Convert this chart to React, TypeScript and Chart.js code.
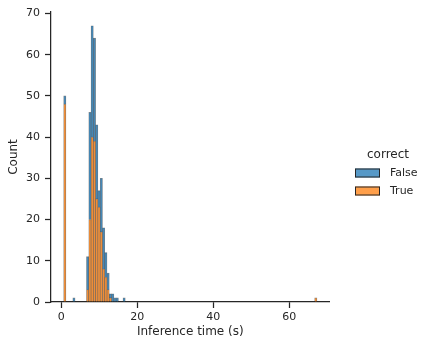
import React, { useEffect, useRef } from "react";
import { Chart, registerables } from "chart.js";

Chart.register(...registerables);

// Histogram bins: left edge of bin 0 and bin width (seconds)
const BIN_START = 0.65;
const BIN_WIDTH = 0.6;

// hue = True (drawn at the bottom of the stack)
const trueBins = [0, 10, 11, 12, 13, 14, 15, 16, 17, 18, 19, 20, 110];
const trueCounts = [48, 3, 20, 40, 39, 25, 23, 17, 8, 6, 3, 1, 1];

// hue = False (stacked on top)
const falseBins = [0, 4, 10, 11, 12, 13, 14, 15, 16, 17, 18, 19, 20, 21, 22, 23, 26];
const falseCounts = [2, 1, 8, 26, 27, 25, 18, 4, 13, 10, 6, 4, 1, 2, 1, 1, 1];

const xTicks = [0, 20, 40, 60];
const yTicks = [0, 10, 20, 30, 40, 50, 60, 70];

const legendTitle = "correct";
const legendLabels = ["False", "True"];

const BLUE = "rgba(31,119,180,0.75)";
const ORANGE = "rgba(255,127,14,0.75)";
const EDGE = "rgba(38,38,38,0.55)";
const DARK = "#262626";
const FONT = "'DejaVu Sans', sans-serif";

const toPoints = (bins: number[], counts: number[]) =>
  bins.map((b, i) => ({ x: BIN_START + BIN_WIDTH * (b + 0.5), y: counts[i] }));

const legendPlugin = {
  id: "sideLegend",
  afterDraw(chart: any) {
    const ctx = chart.ctx;
    ctx.save();
    ctx.fillStyle = DARK;
    ctx.font = `12px ${FONT}`;
    ctx.textAlign = "center";
    ctx.textBaseline = "middle";
    ctx.fillText(legendTitle, 388, 155);
    const colors = [BLUE, ORANGE];
    const rows = [173, 191];
    legendLabels.forEach((lab, i) => {
      const y = rows[i];
      ctx.fillStyle = "#fff";
      ctx.fillRect(355, y - 4.5, 25, 9);
      ctx.fillStyle = colors[i];
      ctx.fillRect(355, y - 4.5, 25, 9);
      ctx.strokeStyle = DARK;
      ctx.lineWidth = 1;
      ctx.strokeRect(355.5, y - 4, 24, 8);
      ctx.fillStyle = DARK;
      ctx.font = `11px ${FONT}`;
      ctx.textAlign = "left";
      ctx.fillText(lab, 390, y);
    });
    ctx.restore();
  },
};

export default function App() {
  const ref = useRef<HTMLCanvasElement>(null);
  useEffect(() => {
    document.body.style.margin = "0";
    const chart = new Chart(ref.current!, {
      type: "bar",
      data: {
        datasets: [
          {
            label: "True",
            data: toPoints(trueBins, trueCounts),
            backgroundColor: ORANGE,
            borderColor: EDGE,
            borderWidth: 0.6,
            barPercentage: 1,
            categoryPercentage: 1,
          },
          {
            label: "False",
            data: toPoints(falseBins, falseCounts),
            backgroundColor: BLUE,
            borderColor: EDGE,
            borderWidth: 0.6,
            barPercentage: 1,
            categoryPercentage: 1,
          },
        ],
      },
      options: {
        responsive: false,
        animation: false,
        devicePixelRatio: 1,
        layout: { padding: { top: 12, right: 103.4, left: 0, bottom: 0 } },
        plugins: { legend: { display: false }, tooltip: { enabled: false } },
        scales: {
          x: {
            type: "linear",
            stacked: true,
            offset: false,
            min: -2.68,
            max: 70.58,
            afterBuildTicks: (s: any) => {
              s.ticks = xTicks.map((v) => ({ value: v }));
            },
            afterFit: (s: any) => {
              s.height = 48;
            },
            grid: { display: true, offset: false, drawOnChartArea: false, drawTicks: true, tickLength: 6, tickWidth: 1.25, tickColor: DARK },
            border: { display: true, color: DARK, width: 1.25 },
            ticks: { color: DARK, font: { family: FONT, size: 11 }, padding: 3, maxRotation: 0 },
            title: { display: true, text: "Inference time (s)", color: DARK, font: { family: FONT, size: 12 }, padding: { top: 0, bottom: 11 } },
          },
          y: {
            stacked: true,
            min: 0,
            max: 70.35,
            afterBuildTicks: (s: any) => {
              s.ticks = yTicks.map((v) => ({ value: v }));
            },
            afterFit: (s: any) => {
              s.width = 51;
            },
            grid: { display: true, drawOnChartArea: false, drawTicks: true, tickLength: 6, tickWidth: 1.25, tickColor: DARK },
            border: { display: true, color: DARK, width: 1.25 },
            ticks: { color: DARK, font: { family: FONT, size: 11 }, padding: 5 },
            title: { display: true, text: "Count", color: DARK, font: { family: FONT, size: 12 }, padding: { top: 7, bottom: 0 } },
          },
        },
      },
      plugins: [legendPlugin],
    } as any);
    return () => chart.destroy();
  }, []);
  return (
    <div style={{ width: 433, height: 350, position: "relative" }}>
      <canvas ref={ref} width={433} height={350} />
    </div>
  );
}
